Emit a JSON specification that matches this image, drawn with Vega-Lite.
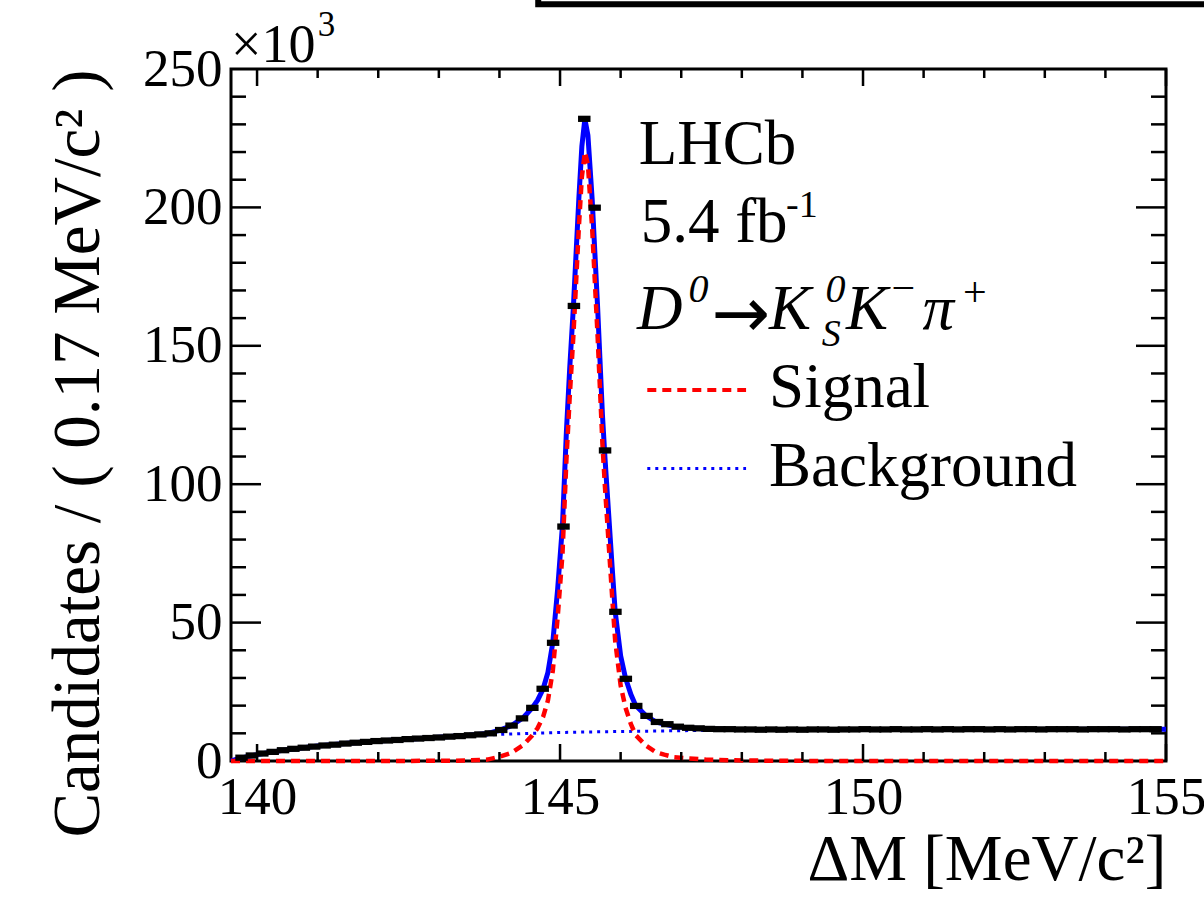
{
  "$schema": "https://vega.github.io/schema/vega-lite/v6.json",
  "width": 935,
  "height": 692,
  "autosize": {"type": "none"},
  "padding": {"left": 231, "top": 69, "right": 38, "bottom": 141},
  "background": "white",
  "config": {
    "view": {"stroke": "black", "strokeWidth": 3},
    "text": {"font": "Liberation Serif", "color": "black", "baseline": "alphabetic", "align": "left"},
    "axis": {"labelFont": "Liberation Serif", "titleFont": "Liberation Serif", "labelColor": "black", "titleColor": "black", "titleFontWeight": "normal", "grid": false, "ticks": false, "domain": false}
  },
  "datasets": {
    "one": [{}],
    "data": [
      {"x": 139.744, "y": 1.2}, {"x": 139.915, "y": 2.0}, {"x": 140.086, "y": 2.7}, {"x": 140.258, "y": 3.3},
      {"x": 140.429, "y": 3.9}, {"x": 140.6, "y": 4.4}, {"x": 140.772, "y": 4.8}, {"x": 140.943, "y": 5.2},
      {"x": 141.115, "y": 5.6}, {"x": 141.286, "y": 5.9}, {"x": 141.457, "y": 6.3}, {"x": 141.629, "y": 6.6},
      {"x": 141.8, "y": 6.9}, {"x": 141.972, "y": 7.2}, {"x": 142.143, "y": 7.4}, {"x": 142.315, "y": 7.6},
      {"x": 142.486, "y": 7.9}, {"x": 142.657, "y": 8.1}, {"x": 142.829, "y": 8.3}, {"x": 143.0, "y": 8.5},
      {"x": 143.172, "y": 8.8}, {"x": 143.343, "y": 9.0}, {"x": 143.515, "y": 9.3}, {"x": 143.686, "y": 9.6},
      {"x": 143.857, "y": 10.0}, {"x": 144.029, "y": 11.2}, {"x": 144.2, "y": 12.8}, {"x": 144.372, "y": 15.4},
      {"x": 144.543, "y": 19.2}, {"x": 144.714, "y": 26.1}, {"x": 144.886, "y": 42.7}, {"x": 145.057, "y": 84.7},
      {"x": 145.229, "y": 164.4}, {"x": 145.4, "y": 232.0}, {"x": 145.571, "y": 199.9}, {"x": 145.743, "y": 112.2},
      {"x": 145.914, "y": 53.9}, {"x": 146.086, "y": 29.7}, {"x": 146.257, "y": 19.9}, {"x": 146.428, "y": 16.3},
      {"x": 146.6, "y": 14.1}, {"x": 146.771, "y": 13.3}, {"x": 146.943, "y": 12.4}, {"x": 147.114, "y": 12.0},
      {"x": 147.286, "y": 11.8}, {"x": 147.457, "y": 11.6}, {"x": 147.628, "y": 11.5}, {"x": 147.8, "y": 11.5},
      {"x": 147.971, "y": 11.4}, {"x": 148.142, "y": 11.4}, {"x": 148.314, "y": 11.3}, {"x": 148.485, "y": 11.4},
      {"x": 148.656, "y": 11.3}, {"x": 148.828, "y": 11.4}, {"x": 148.999, "y": 11.3}, {"x": 149.171, "y": 11.4},
      {"x": 149.342, "y": 11.4}, {"x": 149.514, "y": 11.3}, {"x": 149.685, "y": 11.4}, {"x": 149.856, "y": 11.4},
      {"x": 150.028, "y": 11.5}, {"x": 150.199, "y": 11.4}, {"x": 150.371, "y": 11.4}, {"x": 150.542, "y": 11.5},
      {"x": 150.713, "y": 11.4}, {"x": 150.885, "y": 11.4}, {"x": 151.056, "y": 11.5}, {"x": 151.228, "y": 11.4},
      {"x": 151.399, "y": 11.5}, {"x": 151.57, "y": 11.4}, {"x": 151.742, "y": 11.5}, {"x": 151.913, "y": 11.5},
      {"x": 152.085, "y": 11.4}, {"x": 152.256, "y": 11.5}, {"x": 152.427, "y": 11.4}, {"x": 152.599, "y": 11.5},
      {"x": 152.77, "y": 11.5}, {"x": 152.942, "y": 11.4}, {"x": 153.113, "y": 11.5}, {"x": 153.284, "y": 11.5},
      {"x": 153.456, "y": 11.5}, {"x": 153.627, "y": 11.4}, {"x": 153.798, "y": 11.5}, {"x": 153.97, "y": 11.5},
      {"x": 154.141, "y": 11.5}, {"x": 154.313, "y": 11.4}, {"x": 154.484, "y": 11.5}, {"x": 154.655, "y": 11.5},
      {"x": 154.827, "y": 11.5}
    ],
    "total": [
      {"x": 139.57, "y": 0}, {"x": 139.65, "y": 0.6}, {"x": 139.8, "y": 1.4}, {"x": 140.0, "y": 2.3},
      {"x": 140.2, "y": 3.1}, {"x": 140.5, "y": 4.1}, {"x": 140.8, "y": 4.9}, {"x": 141.0, "y": 5.4},
      {"x": 141.5, "y": 6.4}, {"x": 142.0, "y": 7.2}, {"x": 142.5, "y": 7.9}, {"x": 143.0, "y": 8.55},
      {"x": 143.5, "y": 9.3}, {"x": 143.8, "y": 9.9}, {"x": 144.0, "y": 11.1}, {"x": 144.2, "y": 12.8},
      {"x": 144.4, "y": 15.8}, {"x": 144.54, "y": 19.2}, {"x": 144.63, "y": 22}, {"x": 144.72, "y": 26},
      {"x": 144.8, "y": 32}, {"x": 144.88, "y": 42.7}, {"x": 144.96, "y": 62}, {"x": 145.04, "y": 85},
      {"x": 145.105, "y": 119}, {"x": 145.16, "y": 142}, {"x": 145.22, "y": 164}, {"x": 145.31, "y": 203},
      {"x": 145.36, "y": 222}, {"x": 145.41, "y": 232}, {"x": 145.46, "y": 226}, {"x": 145.53, "y": 203},
      {"x": 145.62, "y": 164}, {"x": 145.7, "y": 125}, {"x": 145.74, "y": 110}, {"x": 145.8, "y": 90},
      {"x": 145.86, "y": 70}, {"x": 145.91, "y": 54}, {"x": 146.0, "y": 38}, {"x": 146.08, "y": 30},
      {"x": 146.17, "y": 24}, {"x": 146.25, "y": 20}, {"x": 146.42, "y": 16.3}, {"x": 146.58, "y": 14.1},
      {"x": 146.72, "y": 13.3}, {"x": 146.88, "y": 12.5}, {"x": 147.1, "y": 12.0}, {"x": 147.4, "y": 11.6},
      {"x": 147.8, "y": 11.4}, {"x": 148.5, "y": 11.35}, {"x": 150.0, "y": 11.4}, {"x": 152.0, "y": 11.4},
      {"x": 155.0, "y": 11.45}
    ],
    "signal": [
      {"x": 139.57, "y": 0}, {"x": 143.0, "y": 0.05}, {"x": 143.5, "y": 0.2}, {"x": 143.8, "y": 0.5},
      {"x": 144.0, "y": 1.5}, {"x": 144.2, "y": 3.0}, {"x": 144.4, "y": 5.9}, {"x": 144.54, "y": 9.2},
      {"x": 144.63, "y": 11.9}, {"x": 144.72, "y": 15.9}, {"x": 144.8, "y": 21.9}, {"x": 144.88, "y": 32.5},
      {"x": 144.96, "y": 51.7}, {"x": 145.04, "y": 74.7}, {"x": 145.105, "y": 108.7}, {"x": 145.16, "y": 131.7},
      {"x": 145.22, "y": 153.6}, {"x": 145.31, "y": 192.6}, {"x": 145.36, "y": 211}, {"x": 145.41, "y": 220},
      {"x": 145.46, "y": 215.5}, {"x": 145.53, "y": 192.5}, {"x": 145.62, "y": 153.5}, {"x": 145.7, "y": 114.5},
      {"x": 145.74, "y": 99.5}, {"x": 145.8, "y": 79.4}, {"x": 145.86, "y": 59.4}, {"x": 145.91, "y": 43.4},
      {"x": 146.0, "y": 27.3}, {"x": 146.08, "y": 19.3}, {"x": 146.17, "y": 13.3}, {"x": 146.25, "y": 9.3},
      {"x": 146.42, "y": 5.5}, {"x": 146.58, "y": 3.2}, {"x": 146.72, "y": 2.3}, {"x": 146.88, "y": 1.4},
      {"x": 147.1, "y": 1.0}, {"x": 147.4, "y": 0.5}, {"x": 147.8, "y": 0.25}, {"x": 148.5, "y": 0.1},
      {"x": 149.5, "y": 0}, {"x": 155.0, "y": 0}
    ],
    "background": [
      {"x": 139.57, "y": 0}, {"x": 139.65, "y": 0.6}, {"x": 139.8, "y": 1.4}, {"x": 140.0, "y": 2.3},
      {"x": 140.2, "y": 3.1}, {"x": 140.5, "y": 4.1}, {"x": 140.8, "y": 4.9}, {"x": 141.0, "y": 5.4},
      {"x": 141.5, "y": 6.4}, {"x": 142.0, "y": 7.2}, {"x": 142.5, "y": 7.9}, {"x": 143.0, "y": 8.5},
      {"x": 143.5, "y": 9.1}, {"x": 144.0, "y": 9.6}, {"x": 144.5, "y": 10.0}, {"x": 145.0, "y": 10.3},
      {"x": 145.5, "y": 10.5}, {"x": 146.0, "y": 10.65}, {"x": 146.5, "y": 10.8}, {"x": 147.0, "y": 10.95},
      {"x": 147.5, "y": 11.1}, {"x": 148.0, "y": 11.2}, {"x": 149.0, "y": 11.3}, {"x": 150.0, "y": 11.35},
      {"x": 152.0, "y": 11.4}, {"x": 155.0, "y": 11.45}
    ],
    "xmaj": [{"v": 140}, {"v": 145}, {"v": 150}, {"v": 155}],
    "xmin": [{"v": 141}, {"v": 142}, {"v": 143}, {"v": 144}, {"v": 146}, {"v": 147}, {"v": 148}, {"v": 149}, {"v": 151}, {"v": 152}, {"v": 153}, {"v": 154}],
    "ymaj": [{"v": 50}, {"v": 100}, {"v": 150}, {"v": 200}],
    "ymin": [{"v": 10}, {"v": 20}, {"v": 30}, {"v": 40}, {"v": 60}, {"v": 70}, {"v": 80}, {"v": 90}, {"v": 110}, {"v": 120}, {"v": 130}, {"v": 140}, {"v": 160}, {"v": 170}, {"v": 180}, {"v": 190}, {"v": 210}, {"v": 220}, {"v": 230}, {"v": 240}]
  },
  "layer": [
    {
      "data": {"name": "background"},
      "mark": {"type": "line", "color": "#0000ff", "strokeWidth": 3, "strokeDash": [3, 5]},
      "encoding": {
        "x": {"field": "x", "type": "quantitative", "scale": {"domain": [139.57, 155], "nice": false, "zero": false},
          "axis": {"title": "ΔM [MeV/c²]", "values": [140, 145, 150, 155], "format": "d", "labelFontSize": 53, "labelPadding": 10, "labelFlush": false, "labelOverlap": false, "titleFontSize": 65, "titleAnchor": "end", "titlePadding": 4}},
        "y": {"field": "y", "type": "quantitative", "scale": {"domain": [0, 250], "nice": false, "zero": true},
          "axis": {"title": "Candidates / ( 0.17 MeV/c² )", "values": [0, 50, 100, 150, 200, 250], "labelFontSize": 53, "labelPadding": 9, "labelFlush": false, "labelOverlap": false, "titleFontSize": 67, "titleAnchor": "end", "titlePadding": 30}}
      }
    },
    {
      "data": {"name": "total"},
      "mark": {"type": "line", "color": "#0000ff", "strokeWidth": 5},
      "encoding": {"x": {"field": "x", "type": "quantitative"}, "y": {"field": "y", "type": "quantitative"}}
    },
    {
      "data": {"name": "signal"},
      "mark": {"type": "line", "color": "#ff0000", "strokeWidth": 4.5, "strokeDash": [9, 6]},
      "encoding": {"x": {"field": "x", "type": "quantitative"}, "y": {"field": "y", "type": "quantitative"}}
    },
    {
      "data": {"name": "data"},
      "mark": {"type": "point", "shape": "M-1,-0.5H1V0.5H-1Z", "filled": true, "color": "black", "opacity": 1, "size": 156},
      "encoding": {"x": {"field": "x", "type": "quantitative"}, "y": {"field": "y", "type": "quantitative"}}
    },
    {
      "data": {"name": "xmaj"},
      "mark": {"type": "rule", "color": "black", "strokeWidth": 2.5},
      "encoding": {"x": {"field": "v", "type": "quantitative"}, "y": {"datum": 0}, "y2": {"datum": 6.15}}
    },
    {
      "data": {"name": "xmaj"},
      "mark": {"type": "rule", "color": "black", "strokeWidth": 2.5},
      "encoding": {"x": {"field": "v", "type": "quantitative"}, "y": {"datum": 250}, "y2": {"datum": 243.85}}
    },
    {
      "data": {"name": "xmin"},
      "mark": {"type": "rule", "color": "black", "strokeWidth": 2.5},
      "encoding": {"x": {"field": "v", "type": "quantitative"}, "y": {"datum": 0}, "y2": {"datum": 3.26}}
    },
    {
      "data": {"name": "xmin"},
      "mark": {"type": "rule", "color": "black", "strokeWidth": 2.5},
      "encoding": {"x": {"field": "v", "type": "quantitative"}, "y": {"datum": 250}, "y2": {"datum": 246.74}}
    },
    {
      "data": {"name": "ymaj"},
      "mark": {"type": "rule", "color": "black", "strokeWidth": 2.5},
      "encoding": {"y": {"field": "v", "type": "quantitative"}, "x": {"datum": 139.57}, "x2": {"datum": 140.065}}
    },
    {
      "data": {"name": "ymaj"},
      "mark": {"type": "rule", "color": "black", "strokeWidth": 2.5},
      "encoding": {"y": {"field": "v", "type": "quantitative"}, "x": {"datum": 155}, "x2": {"datum": 154.505}}
    },
    {
      "data": {"name": "ymin"},
      "mark": {"type": "rule", "color": "black", "strokeWidth": 2.5},
      "encoding": {"y": {"field": "v", "type": "quantitative"}, "x": {"datum": 139.57}, "x2": {"datum": 139.8175}}
    },
    {
      "data": {"name": "ymin"},
      "mark": {"type": "rule", "color": "black", "strokeWidth": 2.5},
      "encoding": {"y": {"field": "v", "type": "quantitative"}, "x": {"datum": 155}, "x2": {"datum": 154.7525}}
    },
    {
      "data": {"name": "one"},
      "mark": {"type": "rect", "fill": "white", "stroke": "black", "strokeWidth": 6, "clip": false},
      "encoding": {"x": {"datum": 144.64}, "x2": {"datum": 157}, "y": {"datum": 273.4}, "y2": {"datum": 300}}
    },
    {"data": {"name": "one"}, "mark": {"type": "text", "text": "×10", "fontSize": 54}, "encoding": {"x": {"datum": 139.57}, "y": {"datum": 252.7}}},
    {"data": {"name": "one"}, "mark": {"type": "text", "text": "3", "fontSize": 35}, "encoding": {"x": {"datum": 141.0}, "y": {"datum": 261.8}}},
    {"data": {"name": "one"}, "mark": {"type": "text", "text": "LHCb", "fontSize": 63}, "encoding": {"x": {"datum": 146.3}, "y": {"datum": 215.8}}},
    {"data": {"name": "one"}, "mark": {"type": "text", "text": "5.4 fb", "fontSize": 63}, "encoding": {"x": {"datum": 146.33}, "y": {"datum": 187.5}}},
    {"data": {"name": "one"}, "mark": {"type": "text", "text": "-1", "fontSize": 38}, "encoding": {"x": {"datum": 148.73}, "y": {"datum": 196.6}}},
    {"data": {"name": "one"}, "mark": {"type": "text", "text": "D", "fontSize": 63, "fontStyle": "italic"}, "encoding": {"x": {"datum": 146.27}, "y": {"datum": 156.0}}},
    {"data": {"name": "one"}, "mark": {"type": "text", "text": "0", "fontSize": 40, "fontStyle": "italic"}, "encoding": {"x": {"datum": 147.12}, "y": {"datum": 165.8}}},
    {"data": {"name": "one"}, "mark": {"type": "text", "text": "→", "fontSize": 70, "font": "DejaVu Sans"}, "encoding": {"x": {"datum": 147.5}, "y": {"datum": 153.2}}},
    {"data": {"name": "one"}, "mark": {"type": "text", "text": "K", "fontSize": 63, "fontStyle": "italic"}, "encoding": {"x": {"datum": 148.45}, "y": {"datum": 156.0}}},
    {"data": {"name": "one"}, "mark": {"type": "text", "text": "0", "fontSize": 40, "fontStyle": "italic"}, "encoding": {"x": {"datum": 149.38}, "y": {"datum": 165.8}}},
    {"data": {"name": "one"}, "mark": {"type": "text", "text": "S", "fontSize": 38, "fontStyle": "italic"}, "encoding": {"x": {"datum": 149.32}, "y": {"datum": 149.9}}},
    {"data": {"name": "one"}, "mark": {"type": "text", "text": "K", "fontSize": 63, "fontStyle": "italic"}, "encoding": {"x": {"datum": 149.72}, "y": {"datum": 156.0}}},
    {"data": {"name": "one"}, "mark": {"type": "text", "text": "−", "fontSize": 42}, "encoding": {"x": {"datum": 150.47}, "y": {"datum": 165.8}}},
    {"data": {"name": "one"}, "mark": {"type": "text", "text": "π", "fontSize": 63, "fontStyle": "italic"}, "encoding": {"x": {"datum": 150.98}, "y": {"datum": 156.0}}},
    {"data": {"name": "one"}, "mark": {"type": "text", "text": "+", "fontSize": 42}, "encoding": {"x": {"datum": 151.65}, "y": {"datum": 164.3}}},
    {
      "data": {"name": "one"},
      "mark": {"type": "rule", "color": "#ff0000", "strokeWidth": 4, "strokeDash": [9, 6]},
      "encoding": {"x": {"datum": 146.44}, "x2": {"datum": 148.07}, "y": {"datum": 134.0}}
    },
    {
      "data": {"name": "one"},
      "mark": {"type": "rule", "color": "#0000ff", "strokeWidth": 3, "strokeDash": [3, 5]},
      "encoding": {"x": {"datum": 146.44}, "x2": {"datum": 148.07}, "y": {"datum": 105.7}}
    },
    {"data": {"name": "one"}, "mark": {"type": "text", "text": "Signal", "fontSize": 63}, "encoding": {"x": {"datum": 148.45}, "y": {"datum": 127.8}}},
    {"data": {"name": "one"}, "mark": {"type": "text", "text": "Background", "fontSize": 63}, "encoding": {"x": {"datum": 148.45}, "y": {"datum": 99.2}}}
  ]
}
